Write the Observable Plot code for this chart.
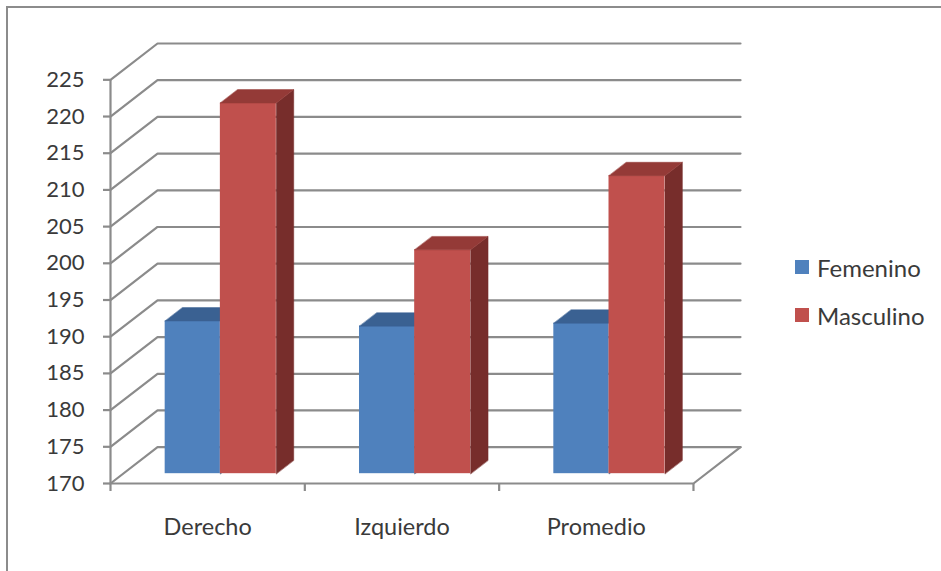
<!DOCTYPE html>
<html>
<head>
<meta charset="utf-8">
<script src="https://cdn.jsdelivr.net/npm/d3@7"></script>
<script src="https://cdn.jsdelivr.net/npm/@observablehq/plot@0.6"></script>
<style>
  html, body { margin: 0; padding: 0; background: #fff; }
  #chart { position: relative; width: 941px; height: 571px; overflow: hidden; font-family: Lato, "Open Sans", sans-serif; }
  #frame { position: absolute; left: 6px; top: 6px; right: -4px; bottom: -4px; border-top: 2px solid #8c8c8c; border-left: 2px solid #8c8c8c; pointer-events: none; }
  #chart svg { position: absolute; left: 0; top: 0; }
  #legend { position: absolute; left: 795px; top: 243px; color: #3a3a3a; font-size: 24px; }
  #legend .row { display: flex; align-items: center; height: 48px; }
  #legend .sw { width: 14px; height: 14px; margin-right: 8px; }
</style>
</head>
<body>
<div id="chart"><div id="frame"></div><div id="legend"></div></div>
<script>
// Categories and series values
const categories = ["Derecho", "Izquierdo", "Promedio"];
const series = ["Femenino", "Masculino"];
const femenino = [190.8, 190.1, 190.5];
const masculino = [220.5, 200.5, 210.6];
const yTicks = [170, 175, 180, 185, 190, 195, 200, 205, 210, 215, 220, 225];

// Colours: front, top and side faces of each series
const frontColors = ["#4f81bd", "#c0504d"];
const topColors = ["#3a6192", "#943a37"];
const sideColors = ["#2f5079", "#772d2b"];
const gridColor = "#8b8b8b";

// Oblique depth of the box, in data units
const yMin = yTicks[0];
const yMax = yTicks[yTicks.length - 1];
const DX = 0.242;           // depth along x (category slots)
const DY = 4.95;            // depth along y (value units)
const F0 = 0.27, F1 = 0.64; // front/back depth of the columns
const slot = [[0.216, 0.5], [0.5, 0.788]]; // column span inside a category slot
const n = categories.length;

const values = [femenino, masculino];
const bars = [];
categories.forEach((c, i) => {
  values.forEach((vals, s) => {
    bars.push({cat: c, i, s, v: vals[i], x0: i + slot[s][0], x1: i + slot[s][1]});
  });
});

// Gridlines: left side wall diagonal + back wall horizontal for every tick
const grid = yTicks.flatMap((v) => [
  {k: v, x: 0, y: v},
  {k: v, x: DX, y: v + DY},
  {k: v, x: n + DX, y: v + DY}
]);
// Floor front edge and right edge
const floor = [
  {x: 0, y: yMin}, {x: n, y: yMin}, {x: n + DX, y: yMin + DY}
];

const topFaces = bars.flatMap((b) => [
  {id: b.cat + b.s, s: b.s, x: b.x0 + F0 * DX, y: b.v + F0 * DY},
  {id: b.cat + b.s, s: b.s, x: b.x1 + F0 * DX, y: b.v + F0 * DY},
  {id: b.cat + b.s, s: b.s, x: b.x1 + F1 * DX, y: b.v + F1 * DY},
  {id: b.cat + b.s, s: b.s, x: b.x0 + F1 * DX, y: b.v + F1 * DY}
]);
const sideFaces = bars.flatMap((b) => [
  {id: b.cat + b.s, s: b.s, x: b.x1 + F0 * DX, y: yMin + F0 * DY},
  {id: b.cat + b.s, s: b.s, x: b.x1 + F0 * DX, y: b.v + F0 * DY},
  {id: b.cat + b.s, s: b.s, x: b.x1 + F1 * DX, y: b.v + F1 * DY},
  {id: b.cat + b.s, s: b.s, x: b.x1 + F1 * DX, y: yMin + F1 * DY}
]);

const columnMarks = [];
[0, 1].forEach((s) => {
  const bs = bars.filter((b) => b.s === s);
  columnMarks.push(
    Plot.line(sideFaces.filter((p) => p.s === s), {x: "x", y: "y", z: "id", fill: sideColors[s], stroke: sideColors[s], strokeWidth: 0.5, curve: "linear-closed"}),
    Plot.rect(bs, {
      x1: (b) => b.x0 + F0 * DX, x2: (b) => b.x1 + F0 * DX,
      y1: () => yMin + F0 * DY, y2: (b) => b.v + F0 * DY,
      fill: frontColors[s], inset: 0
    }),
    Plot.line(topFaces.filter((p) => p.s === s), {x: "x", y: "y", z: "id", fill: topColors[s], stroke: topColors[s], strokeWidth: 0.5, curve: "linear-closed"})
  );
});

const chart = Plot.plot({
  width: 780,
  height: 571,
  marginLeft: 110,
  marginRight: 40,
  marginTop: 43,
  marginBottom: 88,
  style: {background: "transparent", fontFamily: "Lato, 'Open Sans', sans-serif", color: "#3a3a3a"},
  x: {domain: [0, n + DX]},
  y: {domain: [yMin, yMax + DY]},
  marks: [
    Plot.line(grid, {x: "x", y: "y", z: "k", stroke: gridColor, strokeWidth: 2.2}),
    Plot.line(floor, {x: "x", y: "y", stroke: gridColor, strokeWidth: 2.2}),
    Plot.ruleX([0], {y1: yMin, y2: yMax, stroke: gridColor, strokeWidth: 2.2}),
    ...columnMarks,
    Plot.axisY({ticks: yTicks, tickSize: 7, tickPadding: 19, fontSize: 22, stroke: gridColor, strokeWidth: 2.2, tickFormat: (d) => String(d), label: null}),
    Plot.axisX({ticks: d3.range(n + 1), tickSize: 8, tickFormat: () => "", stroke: gridColor, strokeWidth: 2.2, label: null}),
    Plot.axisX({ticks: categories.map((c, i) => i + 0.5), tickSize: 0, tickPadding: 35, fontSize: 23.5, tickFormat: (d) => categories[Math.floor(d)], label: null})
  ]
});
document.getElementById("chart").prepend(chart);

// Legend
const legend = d3.select("#legend");
series.forEach((name, s) => {
  const row = legend.append("div").attr("class", "row");
  row.append("div").attr("class", "sw").style("background", frontColors[s]);
  row.append("span").text(name);
});
</script>
</body>
</html>
